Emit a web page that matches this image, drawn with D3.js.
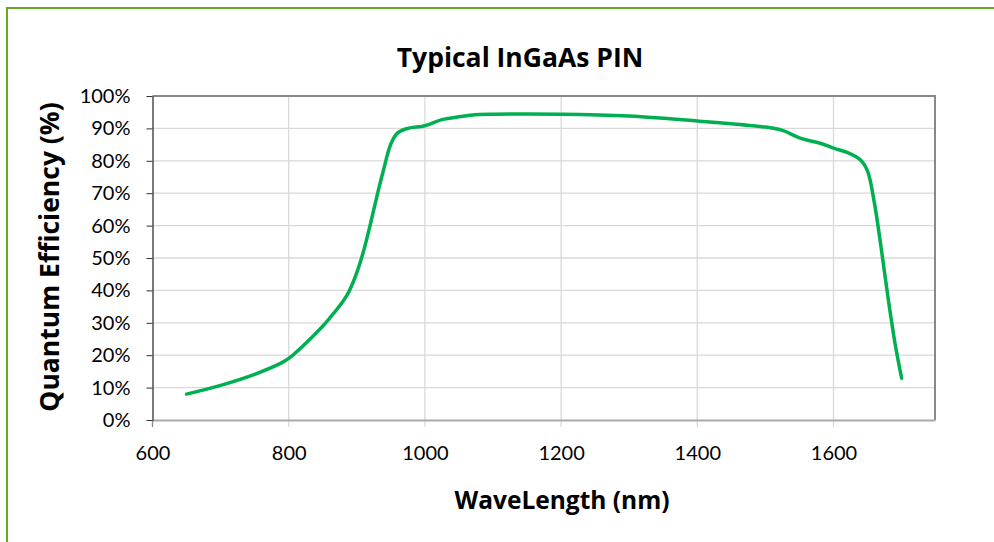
<!DOCTYPE html>
<meta charset="utf-8">
<head>
	<style type="text/css">
		body { margin: 0; background: #fff; }
		text { fill: #000; }
	</style>
	<title>Typical InGaAs PIN</title>
</head>
<script src="https://cdn.jsdelivr.net/npm/d3@7/dist/d3.min.js"></script>
<svg width="994" height="542" id="svg1"></svg>

<script>
	// wavelength (nm) and quantum efficiency (%)
	const wavelength = [650, 700, 750, 790, 800, 830, 860, 885, 900, 910, 920, 930, 940, 950, 960, 975,
		1000, 1025, 1050, 1080, 1100, 1200, 1300, 1400, 1500, 1525, 1550, 1585, 1600, 1620, 1640,
		1650, 1660, 1670, 1680, 1690, 1700];
	const efficiency = [8.0, 10.7, 14.1, 17.7, 19.0, 24.7, 31.4, 38.3, 45.5, 52.2, 60.5, 69.5, 77.8, 85.2, 88.6, 90.0,
		90.8, 92.7, 93.6, 94.3, 94.4, 94.4, 93.8, 92.3, 90.4, 89.4, 87.1, 85.1, 83.9, 82.6, 80.2,
		76.8, 67.0, 53.0, 37.8, 24.0, 12.9];
	const xTicks = [600, 800, 1000, 1200, 1400, 1600];
	const yTicks = [0, 10, 20, 30, 40, 50, 60, 70, 80, 90, 100];

	const title = "Typical InGaAs PIN";
	const xAxisLabel = "WaveLength (nm)";
	const yAxisLabel = "Quantum Efficiency (%)";

	const tickFont = 'Lato, "Open Sans", sans-serif';
	const boldFont = '"Open Sans", Lato, sans-serif';

	const svg1 = d3.select('#svg1');
	const data = wavelength.map((w, i) => ({ w: w, q: efficiency[i] }));

	const margin = { top: 96, right: 59, bottom: 122, left: 152.5 };
	const width = +svg1.attr('width');
	const height = +svg1.attr('height');
	const innerWidth = width - margin.left - margin.right;
	const innerHeight = height - margin.top - margin.bottom;

	// outer green frame, runs off the right and bottom edges
	svg1.append('rect')
		.attr('x', 7).attr('y', 8)
		.attr('width', 1000).attr('height', 600)
		.attr('fill', 'none')
		.attr('stroke', '#6aa820')
		.attr('stroke-width', 2);

	const xScale = d3.scaleLinear().domain([600, 1749]).range([0, innerWidth]);
	const yScale = d3.scaleLinear().domain([0, 100]).range([innerHeight, 0]);

	const g1 = svg1.append('g')
		.attr('transform', `translate(${margin.left},${margin.top})`);

	// gridlines
	g1.append('g').selectAll('line').data(yTicks.slice(1)).enter().append('line')
		.attr('x1', 0).attr('x2', innerWidth)
		.attr('y1', d => yScale(d)).attr('y2', d => yScale(d))
		.attr('stroke', '#d9d9d9').attr('stroke-width', 1.3);
	g1.append('g').selectAll('line').data(xTicks.slice(1)).enter().append('line')
		.attr('x1', d => xScale(d)).attr('x2', d => xScale(d))
		.attr('y1', 0).attr('y2', innerHeight + 7)
		.attr('stroke', '#d9d9d9').attr('stroke-width', 1.3);

	// top / right frame
	g1.append('path')
		.attr('d', `M0,0H${innerWidth}V${innerHeight}`)
		.attr('fill', 'none').attr('stroke', '#888').attr('stroke-width', 2);

	const xAxis = d3.axisBottom(xScale)
		.tickValues(xTicks)
		.tickSize(0)
		.tickPadding(26)
		.tickFormat(d3.format('d'));
	const xAxisG = g1.append('g')
		.attr('transform', `translate(0,${innerHeight})`)
		.call(xAxis)
		.attr('font-family', tickFont)
		.attr('font-size', 20);
	xAxisG.select('.domain').attr('stroke', '#aaa').attr('stroke-width', 2);
	xAxisG.selectAll('text').attr('fill', '#000');
	xAxisG.append('line')
		.attr('x1', 0).attr('x2', 0).attr('y1', 0).attr('y2', 7)
		.attr('stroke', '#888').attr('stroke-width', 1.3);

	const yAxis = d3.axisLeft(yScale)
		.tickValues(yTicks)
		.tickSize(6)
		.tickPadding(16)
		.tickSizeOuter(0)
		.tickFormat(d => d + '%');
	const yAxisG = g1.append('g')
		.call(yAxis)
		.attr('font-family', tickFont)
		.attr('font-size', 20);
	yAxisG.select('.domain').attr('stroke', '#333').attr('stroke-width', 1.3);
	yAxisG.selectAll('.tick line').attr('stroke', '#333');
	yAxisG.selectAll('text').attr('fill', '#000');

	// curve
	const line = d3.line()
		.x(d => xScale(d.w))
		.y(d => yScale(d.q))
		.curve(d3.curveCatmullRom.alpha(0.5));
	g1.append('path')
		.datum(data)
		.attr('d', line)
		.attr('fill', 'none')
		.attr('stroke', '#00b050')
		.attr('stroke-width', 3.5)
		.attr('stroke-linecap', 'round')
		.attr('stroke-linejoin', 'round');

	svg1.append('text')
		.attr('x', 520).attr('y', 67)
		.attr('text-anchor', 'middle')
		.attr('font-family', boldFont)
		.attr('font-weight', 'bold')
		.attr('font-size', 26.5)
		.text(title);

	svg1.append('text')
		.attr('x', 562).attr('y', 509)
		.attr('text-anchor', 'middle')
		.attr('font-family', boldFont)
		.attr('font-weight', 'bold')
		.attr('font-size', 24.5)
		.text(xAxisLabel);

	svg1.append('text')
		.attr('transform', 'translate(59,257) rotate(-90)')
		.attr('text-anchor', 'middle')
		.attr('font-family', boldFont)
		.attr('font-weight', 'bold')
		.attr('font-size', 26.5)
		.text(yAxisLabel);
</script>
